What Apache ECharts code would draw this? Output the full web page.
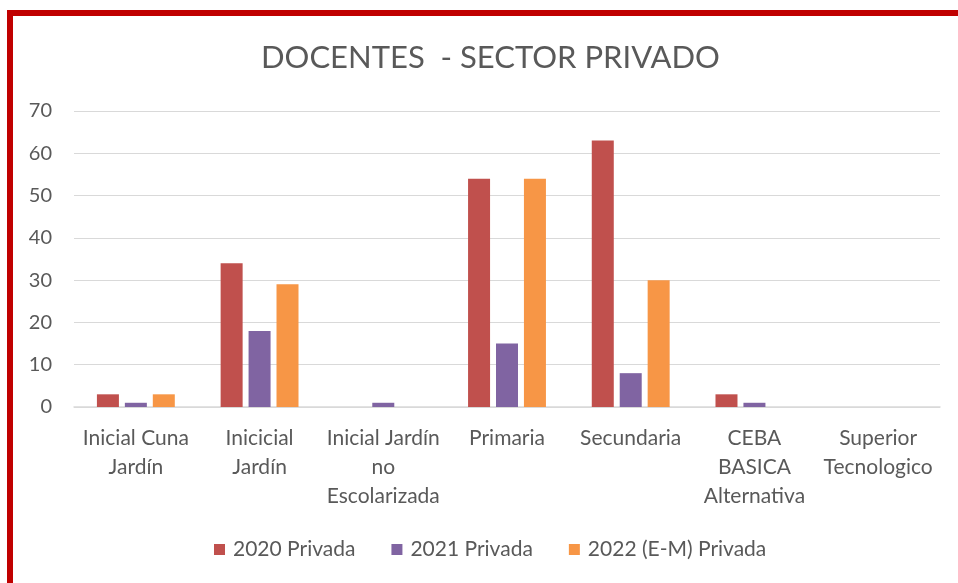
<!DOCTYPE html>
<html lang="es">
<head>
<meta charset="UTF-8">
<title>Docentes - Sector Privado</title>
<style>
  html, body { margin: 0; padding: 0; background: #fff; overflow: hidden; }
  #frame { position: absolute; left: 7px; top: 10px; width: 1000px; height: 700px;
           border-left: 6px solid #C00000; border-top: 6px solid #C00000; }
  #main { position: absolute; left: 0; top: 0; width: 958px; height: 583px; }
</style>
</head>
<body>
<div id="frame"></div>
<div id="main"></div>
<script src="https://cdn.jsdelivr.net/npm/echarts@6/dist/echarts.min.js"></script>
<script>
  // datos
  var categorias = ['Inicial Cuna\nJardín', 'Inicicial\nJardín', 'Inicial Jardín\nno\nEscolarizada',
    'Primaria', 'Secundaria', 'CEBA\nBASICA\nAlternativa', 'Superior\nTecnologico'];
  var privada2020 = [3, 34, 0, 54, 63, 3, 0];
  var privada2021 = [1, 18, 1, 15, 8, 1, 0];
  var privada2022 = [3, 29, 0, 54, 30, 0, 0];
  var yTicks = { min: 0, max: 70, interval: 10 };

  var fuente = 'Lato, "Open Sans", sans-serif';
  var gris = '#595959';

  var myChart = echarts.init(document.getElementById('main'));
  var option = {
    animation: false,
    title: {
      text: 'DOCENTES  - SECTOR PRIVADO',
      left: 256,
      top: 37,
      textStyle: { fontFamily: fuente, fontSize: 31, fontWeight: 'normal', color: gris }
    },
    legend: {
      bottom: 18,
      left: 209,
      itemWidth: 11,
      itemHeight: 11,
      itemGap: 36,
      icon: 'rect',
      textStyle: { fontFamily: fuente, fontSize: 21, color: gris, padding: [0, 0, 0, 3] }
    },
    grid: { left: 74, right: 18, top: 111, bottom: 176 },
    xAxis: {
      type: 'category',
      data: categorias,
      axisTick: { show: false },
      axisLine: { lineStyle: { color: '#d9d9d9', width: 1.5 } },
      axisLabel: { fontFamily: fuente, fontSize: 21, color: gris, margin: 17, lineHeight: 29, interval: 0 }
    },
    yAxis: {
      type: 'value',
      min: yTicks.min,
      max: yTicks.max,
      interval: yTicks.interval,
      axisLine: { show: false },
      axisTick: { show: false },
      splitLine: { lineStyle: { color: '#d9d9d9' } },
      axisLabel: { fontFamily: fuente, fontSize: 20, color: gris, margin: 22 }
    },
    series: [
      { name: '2020 Privada', type: 'bar', data: privada2020, barWidth: 22, barGap: '27%',
        itemStyle: { color: '#C0504D' } },
      { name: '2021 Privada', type: 'bar', data: privada2021, barWidth: 22, barGap: '27%',
        itemStyle: { color: '#8064A2' } },
      { name: '2022 (E-M) Privada', type: 'bar', data: privada2022, barWidth: 22, barGap: '27%',
        itemStyle: { color: '#F79646' } }
    ]
  };
  myChart.setOption(option);
</script>
</body>
</html>
